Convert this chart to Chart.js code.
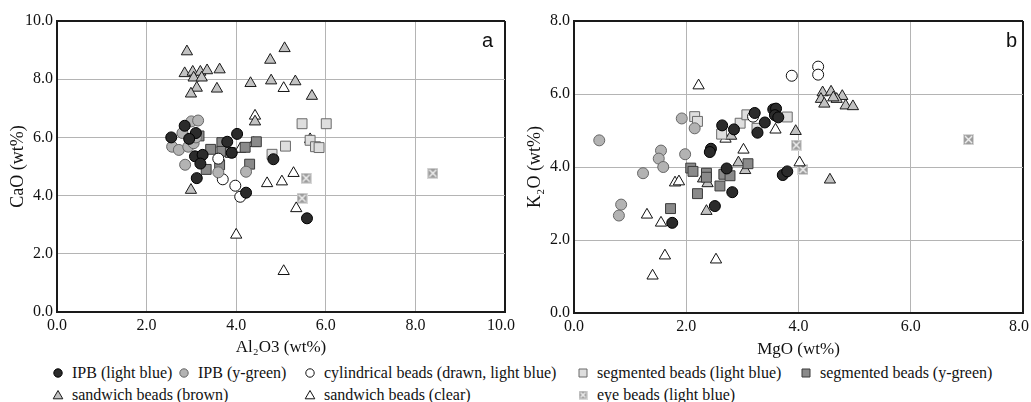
<!DOCTYPE html>
<html>
<head>
<meta charset="utf-8">
<script src="https://cdn.jsdelivr.net/npm/chart.js@4.4.1/dist/chart.umd.min.js"></script>
<style>
html, body { margin: 0; padding: 0; background: #fff; overflow: hidden; }
body { width: 1031px; height: 402px; position: relative; font-family: "Liberation Serif", "Times New Roman", serif; color: #111; }
#chartA { position: absolute; left: 0; top: 0; }
#chartB { position: absolute; left: 517px; top: 0; }
.panel { position: absolute; top: 30px; font-family: "Liberation Sans", Arial, sans-serif; font-size: 20px; line-height: 20px; }
.lg { position: absolute; font-size: 16px; line-height: 18px; white-space: nowrap; }
.lg canvas { position: absolute; left: -20px; top: 3px; }
</style>
</head>
<body>
<canvas id="chartA" width="516" height="360"></canvas>
<canvas id="chartB" width="514" height="361"></canvas>
<div class="panel" style="left:482px">a</div>
<div class="panel" style="left:1006px">b</div>
<div id="legend"></div>
<script>
const seriesNames = [
    'IPB (light blue)', 'IPB (y-green)', 'cylindrical beads (drawn, light blue)',
    'segmented beads (light blue)', 'segmented beads (y-green)',
    'sandwich beads (brown)', 'sandwich beads (clear)', 'eye beads (light blue)'
];

// panel a: Al2O3 (x) vs CaO (y)
const ipbBlueA = [[2.55,6.0],[2.85,6.4],[3.1,6.15],[2.95,5.95],[3.08,5.35],[3.25,5.4],[3.2,5.1],[3.12,4.6],
    [3.8,5.85],[3.9,5.47],[4.02,6.12],[4.22,4.1],[4.83,5.25],[5.58,3.22]];
const ipbGreenA = [[3.0,6.55],[3.15,6.58],[2.8,6.15],[2.57,5.68],[2.72,5.57],[2.93,5.68],[3.05,5.8],[3.1,6.0],
    [2.86,5.06],[3.6,4.8],[4.22,4.82]];
const cylA = [[3.6,5.27],[3.7,4.56],[3.98,4.34],[4.09,3.96]];
const segBlueA = [[5.47,6.47],[6.01,6.47],[5.1,5.7],[4.8,5.42],[5.65,5.9],[5.77,5.68],[5.85,5.65]];
const segGreenA = [[3.17,6.05],[3.43,5.59],[3.68,5.82],[3.68,5.52],[3.87,5.48],[4.2,5.66],[4.45,5.85],
    [3.33,4.9],[3.63,5.06],[4.3,5.08]];
const sandBrownA = [[2.9,8.95],[2.85,8.2],[3.03,8.25],[3.2,8.25],[3.35,8.3],[3.05,8.05],[3.23,8.05],[3.63,8.33],
    [3.12,7.7],[2.99,7.5],[3.57,7.67],[4.32,7.86],[4.76,8.66],[5.08,9.06],[4.78,7.95],[5.32,7.92],[5.69,7.42],
    [4.42,6.54],[2.99,4.19]];
const sandClearA = [[4.42,6.74],[5.06,7.69],[4.09,5.6],[4.39,5.8],[5.65,5.93],[5.28,4.77],[5.02,4.48],
    [4.69,4.42],[5.34,3.56],[4.0,2.65],[5.06,1.4]];
const eyeA = [[5.56,4.6],[8.39,4.77],[5.47,3.91]];

// panel b: MgO (x) vs K2O (y)
const ipbBlueB = [[2.64,5.14],[2.85,5.03],[3.22,5.48],[3.4,5.22],[3.55,5.58],[3.6,5.6],[3.58,5.42],[3.64,5.36],
    [3.27,4.94],[2.44,4.5],[2.42,4.41],[2.72,3.96],[2.51,2.93],[2.82,3.31],[3.72,3.78],[3.8,3.88],[1.75,2.47]];
const ipbGreenB = [[0.45,4.73],[1.23,3.83],[1.55,4.45],[1.51,4.23],[1.59,4.0],[1.98,4.35],[1.92,5.33],
    [2.15,5.06],[0.84,2.97],[0.8,2.67]];
const cylB = [[3.88,6.5],[4.35,6.75],[4.35,6.53],[3.19,5.38]];
const segBlueB = [[2.15,5.38],[2.2,5.25],[2.63,4.9],[2.96,5.2],[3.08,5.43],[3.26,5.06],[3.8,5.37]];
const segGreenB = [[2.08,3.97],[2.12,3.88],[2.36,3.83],[2.36,3.72],[2.67,3.8],[2.78,3.76],[3.1,4.09],
    [2.6,3.48],[2.2,3.27],[1.72,2.86]];
const sandBrownB = [[2.8,4.85],[2.93,4.12],[3.05,3.91],[2.3,3.68],[2.38,3.55],[2.36,2.79],[3.95,4.98],
    [4.56,3.65],[4.43,6.04],[4.58,6.06],[4.78,5.94],[4.4,5.86],[4.46,5.73],[4.68,5.86],[4.84,5.68],
    [4.97,5.66],[4.62,5.9]];
const sandClearB = [[2.22,6.23],[2.7,4.77],[3.02,4.47],[3.59,5.02],[1.8,3.57],[1.87,3.6],[4.02,4.12],
    [1.3,2.69],[1.55,2.47],[1.62,1.57],[1.4,1.02],[2.53,1.46]];
const eyeB = [[3.96,4.6],[4.08,3.93],[7.03,4.75]];

const ticksA = [0, 2, 4, 6, 8, 10];
const ticksB = [0, 2, 4, 6, 8];

// marker looks, same order as seriesNames
const looks = [
    { shape: 'circle', fill: '#2b2b2b', line: '#000' },
    { shape: 'circle', fill: '#b3b3b3', line: '#666' },
    { shape: 'circle', fill: '#fff', line: '#111' },
    { shape: 'rect', fill: '#dedede', line: '#6a6a6a' },
    { shape: 'rect', fill: '#8a8a8a', line: '#3a3a3a' },
    { shape: 'triangle', fill: '#c2c2c2', line: '#1a1a1a' },
    { shape: 'triangle', fill: '#fff', line: '#111' },
    { shape: 'eye', fill: '#9c9c9c', line: '#f2f2f2' }
];
const radius = { circle: 5.5, rect: 7, triangle: 6.5 };

// grey square with a light cross for the eye beads
function eyeImage(size) {
    const c = document.createElement('canvas');
    c.width = c.height = size;
    const g = c.getContext('2d');
    g.fillStyle = '#9c9c9c';
    g.fillRect(0, 0, size, size);
    g.strokeStyle = '#f4f4f4';
    g.lineWidth = 1.4;
    g.beginPath();
    g.moveTo(2, 2); g.lineTo(size - 2, size - 2);
    g.moveTo(size - 2, 2); g.lineTo(2, size - 2);
    g.stroke();
    g.strokeStyle = '#d8d8d8';
    g.lineWidth = 1;
    g.strokeRect(0.5, 0.5, size - 1, size - 1);
    return c;
}
const eyePoint = eyeImage(11);

function datasetsFrom(sets) {
    return sets.map((arr, i) => {
        const lk = looks[i];
        return {
            label: seriesNames[i],
            data: arr.map(p => ({ x: p[0], y: p[1] })),
            pointStyle: lk.shape === 'eye' ? eyePoint : lk.shape,
            pointRadius: radius[lk.shape] || 6,
            backgroundColor: lk.fill,
            borderColor: lk.line,
            borderWidth: 1,
            showLine: false
        };
    });
}

const serif = '"Liberation Serif", "Times New Roman", serif';
const font = { family: serif, size: 16 };

function makeChart(id, sets, xTicks, yTicks, xTitle, yTitle, padRight, titleBottom) {
    const xmax = xTicks[xTicks.length - 1];
    const ymax = yTicks[yTicks.length - 1];
    const edge = (c, max) => c.tick && c.tick.value === max;
    return new Chart(document.getElementById(id), {
        type: 'scatter',
        data: { datasets: datasetsFrom(sets) },
        options: {
            responsive: false,
            animation: false,
            events: [],
            layout: { padding: { top: 21, right: padRight, left: 0, bottom: 0 } },
            plugins: { legend: { display: false }, tooltip: { enabled: false } },
            scales: {
                x: {
                    type: 'linear', min: xTicks[0], max: xmax,
                    afterBuildTicks: s => { s.ticks = xTicks.map(v => ({ value: v })); },
                    afterFit: s => { s.height = 48; s.paddingRight = 0; },
                    grid: {
                        drawTicks: false,
                        color: c => edge(c, xmax) ? '#1a1a1a' : '#b4b4b4',
                        lineWidth: c => edge(c, xmax) ? 2 : 1
                    },
                    border: { color: '#1a1a1a', width: 2 },
                    ticks: {
                        font, color: '#111', padding: 4,
                        callback: v => v === xmax ? v.toFixed(1) + '\u00a0\u00a0' : v.toFixed(1)
                    },
                    title: { display: true, text: xTitle, font: { family: serif, size: 17 }, color: '#111',
                        padding: { top: 0, bottom: titleBottom } }
                },
                y: {
                    type: 'linear', min: yTicks[0], max: ymax,
                    afterBuildTicks: s => { s.ticks = yTicks.map(v => ({ value: v })); },
                    afterFit: s => { s.width = 57; },
                    grid: {
                        drawTicks: false,
                        color: c => edge(c, ymax) ? '#1a1a1a' : '#b4b4b4',
                        lineWidth: c => edge(c, ymax) ? 2 : 1
                    },
                    border: { color: '#1a1a1a', width: 2 },
                    ticks: { font, color: '#111', padding: 4, callback: v => v.toFixed(1) },
                    title: { display: true, text: yTitle, font: { family: serif, size: 18 }, color: '#111',
                        padding: { top: 7, bottom: 0 } }
                }
            }
        }
    });
}

makeChart('chartA', [ipbBlueA, ipbGreenA, cylA, segBlueA, segGreenA, sandBrownA, sandClearA, eyeA],
    ticksA, ticksA, 'Al\u2082O3 (wt%)', 'CaO (wt%)', 11, 1.8);
makeChart('chartB', [ipbBlueB, ipbGreenB, cylB, segBlueB, segGreenB, sandBrownB, sandClearB, eyeB],
    ticksB, ticksB, 'MgO (wt%)', 'K\u2082O (wt%)', 5, 0.8);

// shared legend below both panels
const legendSpots = [[72, 364], [198, 364], [324, 364], [597, 364], [820, 364], [72, 386], [324, 386], [597, 386]];
function drawMarker(g, lk, cx, cy) {
    g.fillStyle = lk.fill;
    g.strokeStyle = lk.line;
    g.lineWidth = 1;
    g.beginPath();
    if (lk.shape === 'circle') {
        g.arc(cx, cy, 4.2, 0, Math.PI * 2);
    } else if (lk.shape === 'rect') {
        g.rect(cx - 4, cy - 4, 8, 8);
    } else if (lk.shape === 'triangle') {
        g.moveTo(cx, cy - 4.5); g.lineTo(cx + 4.8, cy + 3.8); g.lineTo(cx - 4.8, cy + 3.8); g.closePath();
    } else {
        g.drawImage(eyeImage(9), cx - 4.5, cy - 4.5);
        return;
    }
    g.fill();
    g.stroke();
}
const legend = document.getElementById('legend');
seriesNames.forEach((name, i) => {
    const div = document.createElement('div');
    div.className = 'lg';
    div.style.left = legendSpots[i][0] + 'px';
    div.style.top = legendSpots[i][1] + 'px';
    const mk = document.createElement('canvas');
    mk.width = 12; mk.height = 12;
    drawMarker(mk.getContext('2d'), looks[i], 6, 6);
    div.appendChild(mk);
    div.appendChild(document.createTextNode(name));
    legend.appendChild(div);
});
</script>
</body>
</html>
